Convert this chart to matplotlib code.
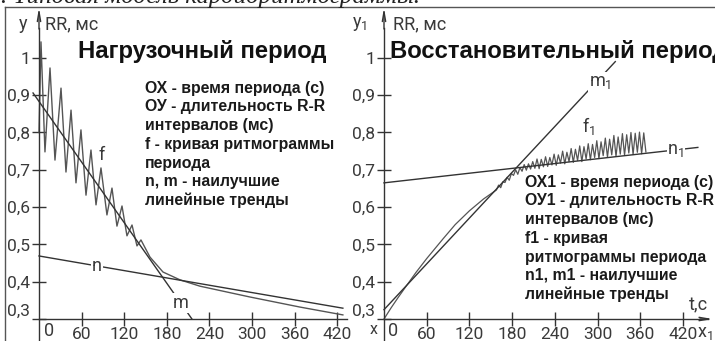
import numpy as np
import matplotlib.pyplot as plt
from matplotlib.lines import Line2D

# нагрузочный период: ритмограмма f (время, с ; RR, мс)
load_t = [0, 2.8, 8.4, 15.5, 22.5, 31.0, 38.0, 45.1, 52.1, 59.1, 66.2, 73.2, 80.3,
          87.3, 95.7, 102.8, 109.8, 116.9, 123.9, 131.0, 138.0, 143.6,
          156.3, 174.6, 198.5, 226.7, 297.1, 367.5, 428.0]
load_rr = [0.80, 1.043, 0.748, 0.973, 0.726, 0.919, 0.694, 0.860, 0.665, 0.807, 0.632, 0.753, 0.606,
           0.705, 0.579, 0.651, 0.549, 0.603, 0.523, 0.552, 0.496, 0.512,
           0.466, 0.426, 0.405, 0.388, 0.359, 0.332, 0.311]
# линейные тренды n, m (концы отрезков)
load_n_t = [0, 428]
load_n_rr = [0.469, 0.329]
load_m_t = [-8.4, 215.4]
load_m_rr = [0.906, 0.300]

# восстановительный период: ритмограмма f1
rec_t = [0, 10, 20, 30, 45, 60, 83, 100, 120, 140,
         158, 161, 164, 167, 170, 173, 176, 179, 182, 185, 188, 191, 194, 197, 200,
         203, 206, 209, 212, 215, 218, 221, 224, 227, 230, 233, 236, 239, 242, 245,
         248, 251, 254, 257, 260, 263, 266, 269, 272, 275, 278, 281, 284, 287, 290,
         293, 296, 299, 302, 305, 308, 311, 314, 317, 320, 323, 326, 329, 332, 335,
         338, 341, 344, 347, 350, 353, 356, 359, 362, 365, 368]
rec_rr = [0.300, 0.330, 0.358, 0.385, 0.425, 0.462, 0.515, 0.553, 0.590, 0.622,
          0.646, 0.659, 0.652, 0.668, 0.666, 0.680, 0.672, 0.690, 0.685, 0.700, 0.688, 0.706, 0.696, 0.714, 0.699,
          0.716, 0.702, 0.722, 0.704, 0.729, 0.703, 0.728, 0.708, 0.735, 0.709, 0.733, 0.713, 0.742, 0.712, 0.740,
          0.718, 0.750, 0.716, 0.747, 0.722, 0.757, 0.720, 0.755, 0.725, 0.764, 0.722, 0.762, 0.729, 0.770, 0.727,
          0.768, 0.733, 0.778, 0.730, 0.775, 0.738, 0.785, 0.734, 0.782, 0.740, 0.792, 0.736, 0.788, 0.742, 0.797,
          0.739, 0.794, 0.745, 0.800, 0.741, 0.798, 0.747, 0.801, 0.743, 0.799, 0.748]
rec_n_t = [0, 441]
rec_n_rr = [0.665, 0.760]
rec_m_t = [0, 325]
rec_m_rr = [0.325, 0.990]

x_ticks = [60, 120, 180, 240, 300, 360, 420]
y_ticks = [0.3, 0.4, 0.5, 0.6, 0.7, 0.8, 0.9, 1.0]
y_labels = ["0,3", "0,4", "0,5", "0,6", "0,7", "0,8", "0,9", "1"]

left_notes = ["ОХ - время периода (с)", "ОУ - длительность R-R", "интервалов (мс)",
              "f - кривая ритмограммы", "периода", "n, m - наилучшие", "линейные тренды"]
right_notes = ["ОХ1 - время периода (с)", "ОУ1 - длительность R-R", "интервалов (мс)",
               "f1 - кривая", "ритмограммы периода", "n1, m1 - наилучшие", "линейные тренды"]

W, H = 715, 341
LC = "#333333"
TC = "#3a3a3a"
tick_font = "Roboto"
note_font = "Liberation Sans"

fig = plt.figure(figsize=(W / 100, H / 100), dpi=100)

# пиксельная привязка: ось y на x0, v=0.3 на y=319 px, 373 px на 1.0
def make_axes(px_left, px_right, x0, sx):
    ax = fig.add_axes([px_left / W, 0, (px_right - px_left) / W, 1])
    ax.set_xlim((px_left - x0) / sx, (px_right - x0) / sx)
    ax.set_ylim(0.3 - (H - 319) / 373, 0.3 + 319 / 373)
    ax.patch.set_alpha(0)
    for s in ["top", "right"]:
        ax.spines[s].set_visible(False)
    ax.spines["left"].set_position(("data", 0))
    ax.spines["bottom"].set_position(("data", 0.3))
    for s in ["left", "bottom"]:
        ax.spines[s].set_color(LC)
        ax.spines[s].set_linewidth(1.0)
    ax.set_xticks(x_ticks)
    ax.set_xticklabels([str(v) for v in x_ticks])
    ax.set_yticks(y_ticks)
    ax.set_yticklabels(y_labels)
    ax.tick_params(direction="inout", length=10, width=1, color=LC, labelcolor=TC,
                   labelsize=12.5)
    ax.tick_params(axis="x", pad=1)
    ax.tick_params(axis="y", pad=1.5)
    for lab in ax.get_xticklabels() + ax.get_yticklabels():
        lab.set_fontfamily(tick_font)
    # подпись 0,3 стоит над осью x
    ax.get_yticklabels()[0].set_verticalalignment("bottom")
    ylo = ax.get_ylim()[0]
    ax.spines["left"].set_bounds(ylo, 1.08)
    ax.annotate("", xy=(0, 1.142), xytext=(0, 1.07),
                arrowprops=dict(arrowstyle="->,head_length=0.7,head_width=0.12", lw=1, color=LC))
    return ax

axL = make_axes(5, 355, 39, 42.6 / 60)
axR = make_axes(355, 715, 384, 42.7 / 60)

axL.spines["bottom"].set_bounds(0, 434)
axR.spines["bottom"].set_bounds(0, 455)
axR.annotate("", xy=(466, 0.3), xytext=(440, 0.3),
             arrowprops=dict(arrowstyle="->,head_length=0.7,head_width=0.12", lw=1, color=LC),
             annotation_clip=False)

# кривые
axL.plot(load_t, load_rr, color="#555555", lw=1.0)
axL.plot(load_n_t, load_n_rr, color=LC, lw=1.0)
axL.plot(load_m_t, load_m_rr, color=LC, lw=1.0)

axR.plot(rec_t, rec_rr, color="#555555", lw=0.9)
axR.plot(rec_n_t, rec_n_rr, color=LC, lw=1.0)
axR.plot(rec_m_t, rec_m_rr, color=LC, lw=1.0)

lab_kw = dict(fontsize=13, color=TC, family=tick_font, ha="center", va="center")
wbg = dict(facecolor="white", edgecolor="none", pad=0.5)
axL.text(88.7, 0.74, "f", **lab_kw)
axL.text(82, 0.443, "n", bbox=wbg, **lab_kw)
axL.text(199, 0.343, "m", bbox=wbg, **lab_kw)
axR.text(287, 0.817, r"$\mathregular{f_1}$", **lab_kw)
axR.text(304, 0.935, r"$\mathregular{m_1}$", bbox=wbg, **lab_kw)
axR.text(410, 0.753, r"$\mathregular{n_1}$", bbox=wbg, **lab_kw)

# подписи осей
ax_kw = dict(fontsize=13, color=TC, family=tick_font, va="center")
axL.text(-22.5, 1.091, "y", ha="center", **ax_kw)
axL.text(8.4, 1.091, "RR, мс", ha="left", **ax_kw)
axR.text(-33.7, 1.091, r"$\mathregular{y_1}$", ha="center", **ax_kw)
axR.text(12.6, 1.091, "RR, мс", ha="left", **ax_kw)
axL.text(7, 0.268, "0", ha="left", **ax_kw)
axR.text(5, 0.268, "0", ha="left", **ax_kw)
axR.text(-14, 0.272, "x", ha="center", fontsize=11.5, color=TC, family=tick_font, va="center")
axR.text(442, 0.337, "t,c", ha="center", **ax_kw)
axR.text(451, 0.262, r"$\mathregular{x_1}$", ha="center", **ax_kw)

# заголовки
axL.text(55, 1.016, "Нагрузочный период", fontsize=17.2, fontweight="bold",
         family=note_font, color="#111111", ha="left", va="center")
axR.text(8.4, 1.016, "Восстановительный период", fontsize=17.2, fontweight="bold",
         family=note_font, color="#111111", ha="left", va="center")

# пояснения
for i, s in enumerate(left_notes):
    axL.text(149, 0.919 - i * 0.0502, s, fontsize=11.4, fontweight="bold",
             family=note_font, color="#1a1a1a", ha="left", va="center")
for i, s in enumerate(right_notes):
    axR.text(198, 0.667 - i * 0.0502, s, fontsize=11.4, fontweight="bold",
             family=note_font, color="#1a1a1a", ha="left", va="center")

# рамка и обрезанная подпись сверху
fig.add_artist(Line2D([5 / W, 5 / W], [0, 1 - 7 / H], color="#555555", lw=1))
fig.add_artist(Line2D([5 / W, 1], [1 - 7 / H, 1 - 7 / H], color="#555555", lw=1))
fig.text(420 / W, 1 - 3 / H, "Рис. 2. Типовая модель кардиоритмограммы.", fontsize=18,
         fontstyle="italic", family="Liberation Serif", color="#222222",
         ha="right", va="baseline")

fig.savefig("out.png", dpi=100)
